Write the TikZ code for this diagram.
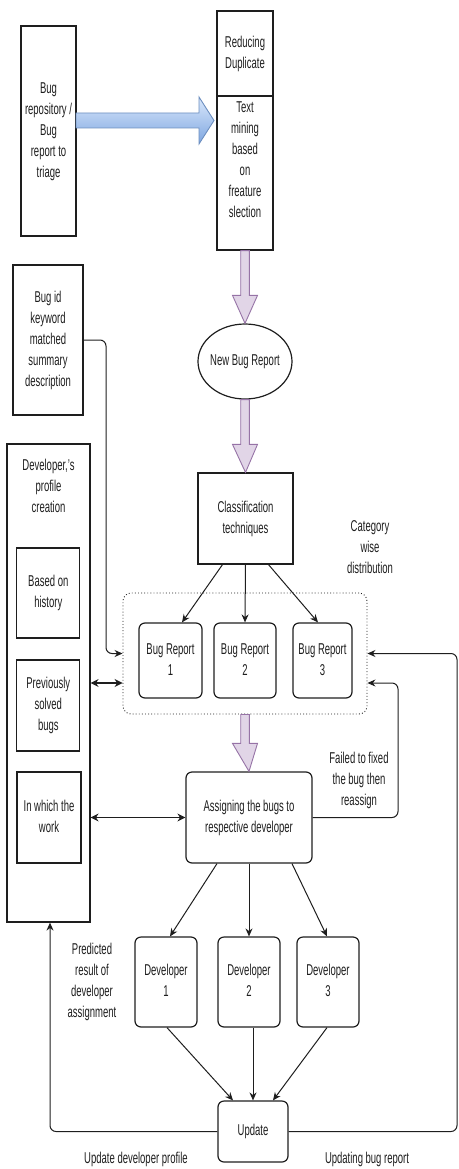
\documentclass[tikz,border=0pt]{standalone}
\usepackage{fontspec}
\setmainfont{Liberation Sans}
\usepackage{graphicx}
\usepackage{xcolor}
\usepackage{tikz}
\usetikzlibrary{positioning,arrows.meta,shapes.geometric,calc}
\definecolor{lilac}{RGB}{225,213,231}
\definecolor{lilacline}{RGB}{150,115,166}
\definecolor{skyfill}{RGB}{218,232,252}
\definecolor{skydeep}{RGB}{126,166,224}
\definecolor{skyline}{RGB}{108,142,191}
\definecolor{ink}{RGB}{30,30,30}
\newcommand{\tall}[1]{\scalebox{1}[1.65]{\begin{tabular}{@{}c@{}}#1\end{tabular}}}
\newcommand{\fatdown}[2]{%
  \draw[purplearrow] let \p1=(#1.south), \p2=(#2.north) in
    (\x1-4.3pt,\y1) -- (\x1+4.3pt,\y1) -- (\x1+4.3pt,\y2+28pt) -- (\x1+12.5pt,\y2+28pt)
    -- (\x2,\y2) -- (\x1-12.5pt,\y2+28pt) -- (\x1-4.3pt,\y2+28pt) -- cycle;}
\tikzset{
  box/.style={draw=ink, line width=1.2pt, inner sep=0pt, align=center},
  rbox/.style={box, rounded corners=6pt},
  link/.style={draw=ink, line width=1pt, -{Stealth[length=8pt,width=7pt]}, rounded corners=6pt},
  dlink/.style={draw=ink, line width=1.1pt, {Stealth[length=8pt,width=8pt]}-{Stealth[length=8pt,width=8pt]}},
  purplearrow/.style={draw=lilacline, fill=lilac, line width=0.9pt},
  bluearrow/.style={draw=skyline, top color=skyfill, bottom color=skydeep, line width=0.9pt}
}

\begin{document}
\begin{tikzpicture}[x=1pt, y=-1pt, font=\fontsize{9.5}{12.7}\selectfont, text=ink]
  \useasboundingbox (0,0) rectangle (458,1169);
  % top row
  \node[box, minimum width=55pt, minimum height=210pt] (repo) at (48.5,131) {\tall{Bug\\repository /\\Bug\\report to\\triage}};
  \node[box, minimum width=56pt, minimum height=85pt] (dup) at (245,53.5) {\tall{Reducing\\Duplicate}};
  \node[box, minimum width=56pt, minimum height=154pt,
    label={[anchor=north, yshift=-2pt, inner sep=0pt]north:{\tall{Text\\mining\\based\\on\\freature\\slection}}}] (mine) at (245,173) {};
  \draw[bluearrow] (76,113) -- (199,113) -- (199,97) -- (214,120.5) -- (199,144) -- (199,128) -- (76,128) -- cycle;
  % middle column
  \node[draw=ink, ellipse, line width=1.2pt, inner sep=0pt, inner xsep=-2pt, minimum width=94pt, minimum height=75pt] (newbug) at (245,361.5) {\tall{New Bug Report}};
  \node[box, minimum width=95pt, minimum height=91pt] (classif) at (245.5,518.5) {\tall{Classification\\techniques}};
  \node (catlbl) at (370,548) {\tall{Category\\wise\\distribution}};
  \node[draw=ink, line width=0.9pt, dash pattern=on 0.9pt off 2.2pt, rounded corners=8pt,
    minimum width=244pt, minimum height=121pt] (group) at (245,653.5) {};
  \foreach \n/\x/\w in {1/170.5/63, 2/245/62, 3/322.5/59}
    \node[rbox, minimum width=\w pt, minimum height=75pt] (br\n) at (\x,660.5) {\tall{Bug Report\\\n}};
  \node[rbox, minimum width=126pt, minimum height=91pt] (assign) at (249,817.5) {\tall{Assigning the bugs to\\respective developer}};
  \node (failedlbl) at (359,780) {\tall{Failed to fixed\\the bug then\\reassign}};
  \foreach \n/\x in {1/166, 2/249, 3/328}
    \node[rbox, minimum width=62pt, minimum height=90pt] (dev\n) at (\x,982) {\tall{Developer\\\n}};
  \node[rbox, minimum width=70pt, minimum height=61pt] (update) at (253,1131.5) {\tall{Update}};
  \node (predlbl) at (92,981.5) {\tall{Predicted\\result of\\developer\\assignment}};
  \node (updproflbl) at (136,1159) {\tall{Update developer profile}};
  \node (updbuglbl) at (367,1159) {\tall{Updating bug report}};
  % left column
  \node[box, minimum width=70pt, minimum height=150pt] (bugid) at (48,340) {\tall{Bug id\\keyword\\matched\\summary\\description}};
  \node[box, minimum width=83pt, minimum height=478pt,
    label={[anchor=north, yshift=-12pt, inner sep=0pt]north:{\tall{Developer,'s\\profile\\creation}}}] (profile) at (48.5,683) {};
  \node[box, minimum width=63pt, minimum height=90pt] (history) at (48.3,593) {\tall{Based on\\history}};
  \node[box, minimum width=63pt, minimum height=91pt] (solved) at (48.3,705.5) {\tall{Previously\\solved\\bugs}};
  \node[box, minimum width=64pt, minimum height=91pt] (work) at (49,817.5) {\tall{In which the\\work}};
  % fat arrows
  \fatdown{mine}{newbug}
  \fatdown{newbug}{classif}
  \fatdown{group}{assign}
  % connectors
  \coordinate (gin) at ([yshift=-29.5pt]group.east);
  \coordinate (gout) at ([yshift=-29.5pt]group.west);
  \draw[link] (bugid.east) -| (106,653.5) -- (group.west);
  \draw[dlink] (profile.east |- gout) -- (gout);
  \draw[dlink] (profile.east |- assign.west) -- (assign.west);
  \foreach \dx/\n/\ex in {-23/1/11.5, 0/2/0, 23/3/-4.5}
    \draw[link] ([xshift=\dx pt]classif.south) -- ([xshift=\ex pt]br\n.north);
  \foreach \dx/\n/\ex in {-32/1/4, 0/2/0, 43/3/-1}
    \draw[link] ([xshift=\dx pt]assign.south) -- ([xshift=\ex pt]dev\n.north);
  \foreach \n/\dx/\ex in {1/1/-20, 2/4/0, 3/-1/20}
    \draw[link] ([xshift=\dx pt]dev\n.south) -- ([xshift=\ex pt]update.north);
  \draw[link] (assign.east) -| (398,683) -- (gin);
  \draw[link] (update.east) -| (457,653.5) -- (group.east);
  \draw[link] (update.west) -| ([xshift=1.5pt]profile.south);
\end{tikzpicture}
\end{document}
